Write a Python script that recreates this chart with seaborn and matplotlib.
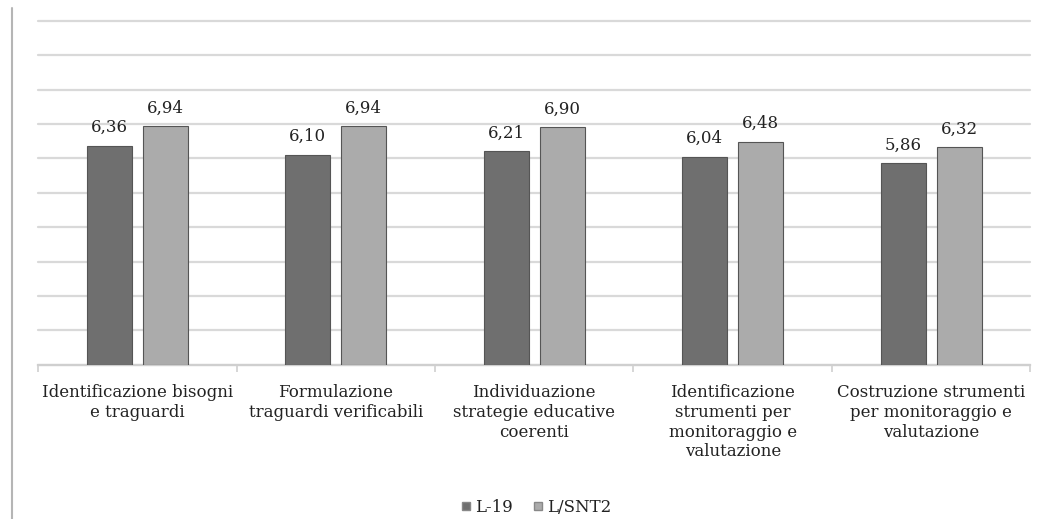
import pandas as pd
import seaborn as sns
import matplotlib.pyplot as plt
from matplotlib.lines import Line2D

# Data
categories = ['Identificazione bisogni\ne traguardi',
              'Formulazione\ntraguardi verificabili',
              'Individuazione\nstrategie educative\ncoerenti',
              'Identificazione\nstrumenti per\nmonitoraggio e\nvalutazione',
              'Costruzione strumenti\nper monitoraggio e\nvalutazione']
series = ['L-19', 'L/SNT2']
l19 = [6.36, 6.10, 6.21, 6.04, 5.86]
lsnt2 = [6.94, 6.94, 6.90, 6.48, 6.32]

df = pd.DataFrame({
    'categoria': categories * 2,
    'gruppo': [series[0]] * 5 + [series[1]] * 5,
    'valore': l19 + lsnt2,
})

sns.set_style('white')
plt.rcParams['font.family'] = ['DejaVu Serif']

fig = plt.figure(figsize=(10.59, 5.19), dpi=100)
ax = fig.add_axes([0.036, 0.297, 0.937, 0.663])

palette = {'L-19': '#6f6f6f', 'L/SNT2': '#ababab'}
sns.barplot(data=df, x='categoria', y='valore', hue='gruppo', order=categories,
            hue_order=series, palette=palette, width=0.564, gap=0.2,
            edgecolor='#555555', linewidth=0.8, saturation=1, ax=ax,
            legend=False, zorder=3)

# value labels with comma decimals
for cont in ax.containers:
    ax.bar_label(cont, labels=[f'{v:.2f}'.replace('.', ',') for v in cont.datavalues],
                 padding=7, fontsize=12, color='#222222')

ax.set_ylim(0, 10)
ax.set_xlim(-0.5, 4.5)
ax.set_yticks(range(0, 11))
ax.set_yticklabels([])
ax.yaxis.grid(True, color='#d9d9d9', linewidth=1.6, zorder=0)
for gl in ax.get_ygridlines():
    gl.set_clip_on(False)
ax.set_axisbelow(True)
ax.set_xlabel('')
ax.set_ylabel('')
for s in ['top', 'right', 'left']:
    ax.spines[s].set_visible(False)
ax.spines['bottom'].set_color('#cfcfcf')
ax.spines['bottom'].set_linewidth(1.6)

ax.tick_params(axis='x', which='major', length=0, pad=14, labelsize=12, labelcolor='#222222')
ax.tick_params(axis='y', length=0)
ax.set_xticks([-0.5, 0.5, 1.5, 2.5, 3.5, 4.5], minor=True)
ax.tick_params(axis='x', which='minor', bottom=True, length=5, color='#cfcfcf',
               width=1.2, direction='out')

handles = [Line2D([], [], marker='s', linestyle='', markersize=6,
                  markerfacecolor=palette[s], markeredgecolor='#888888', label=s)
           for s in series]
fig.legend(handles=handles, loc='center', bbox_to_anchor=(0.505, 0.022), ncol=2,
           frameon=False, fontsize=12, handletextpad=0.05, columnspacing=1.0,
           handlelength=1.0, labelcolor='#222222')

# left border line of the original image
fig.add_artist(Line2D([0.011, 0.011], [0.0, 0.985], color='#b5b5b5', linewidth=1.5))

fig.savefig('out.png', dpi=100)
